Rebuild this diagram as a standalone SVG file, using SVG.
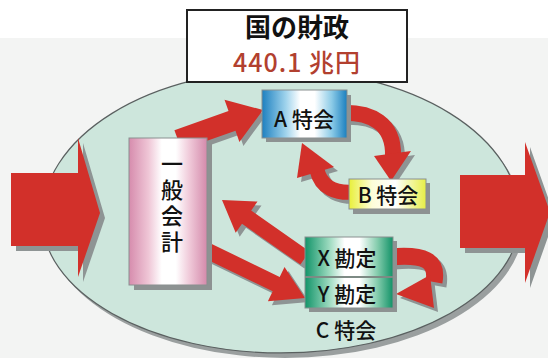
<svg xmlns="http://www.w3.org/2000/svg" xmlns:xlink="http://www.w3.org/1999/xlink" width="548" height="358" viewBox="0 0 548 358">
<style>
  text { font-family: "Noto Sans CJK JP", "Noto Sans", sans-serif; fill: #111; }
  .arrow { fill: #d2302a; }
  .shaft { fill: none; stroke: #d2302a; }
  .shadow { fill: #8e9494; }
  .shadowline { fill: none; stroke: #8e9494; }
  .shade { fill: #8d9292; }
  .box { stroke: #8a8f8f; stroke-width: 1; }
  .lbl { font-size: 21px; font-weight: 500; text-anchor: middle; }
</style>
<defs>
  <linearGradient id="gPink" x1="0" y1="0" x2="1" y2="0">
    <stop offset="0" stop-color="#d68cad"/>
    <stop offset="0.25" stop-color="#efc6d6"/>
    <stop offset="0.42" stop-color="#ffffff"/>
    <stop offset="0.6" stop-color="#ffffff"/>
    <stop offset="0.78" stop-color="#efc8d8"/>
    <stop offset="1" stop-color="#d48aab"/>
  </linearGradient>
  <linearGradient id="gBlue" x1="0" y1="0" x2="1" y2="0">
    <stop offset="0" stop-color="#1d80c0"/>
    <stop offset="0.28" stop-color="#9fd3ec"/>
    <stop offset="0.45" stop-color="#ffffff"/>
    <stop offset="0.62" stop-color="#ffffff"/>
    <stop offset="0.82" stop-color="#8ccbe7"/>
    <stop offset="1" stop-color="#1a7fbf"/>
  </linearGradient>
  <linearGradient id="gYellow" x1="0" y1="0" x2="1" y2="0">
    <stop offset="0" stop-color="#e8ef3a"/>
    <stop offset="0.3" stop-color="#fdfdd8"/>
    <stop offset="0.6" stop-color="#ffffff"/>
    <stop offset="1" stop-color="#e6ee46"/>
  </linearGradient>
  <linearGradient id="gGreen" x1="0" y1="0" x2="1" y2="0">
    <stop offset="0" stop-color="#129469"/>
    <stop offset="0.28" stop-color="#9edbc0"/>
    <stop offset="0.45" stop-color="#ffffff"/>
    <stop offset="0.62" stop-color="#ffffff"/>
    <stop offset="0.82" stop-color="#86cdae"/>
    <stop offset="1" stop-color="#119267"/>
  </linearGradient>
  <path id="ellipsePath" d="M42,218 A239,148 0 0 1 520,218 A239,135 0 0 1 42,218 Z"/>
  <polygon id="bigL" points="11,173 78,173 78,138 100,213 78,277 78,246 11,246"/>
  <polygon id="bigR" points="460,175 525,175 525,142 550,212 525,283 525,248 460,248"/>
  <polygon id="a1" points="181.6,149.8 174.4,130.2 228.5,110.9 224.5,99.7 263,110 239.4,141.9 235.5,130.7"/>
  <polygon id="a4" points="309.6,251.4 251.2,210.6 257.5,201.6 222,200 235.7,232.8 242,223.8 300.4,264.6"/>
  <polygon id="a5" points="196.5,254.4 203.5,240 279.7,276.9 284.5,267 305,298 267.9,301.2 272.7,291.3"/>
  <path id="a2s" d="M338,113 C372,111 394,124 393,156"/>
  <polygon id="a2h" points="391,181 374,156 411,151"/>
  <path id="a3s" d="M356,192 C336,194 321,188 317,170"/>
  <polygon id="a3h" points="302,143 334,167 297,178"/>
  <path id="a6s" d="M390,257 C424,254 438,260 434,282"/>
  <polygon id="a6h" points="396,294 430,275 434,308"/>
</defs>

<rect x="0" y="0" width="548" height="358" fill="#ffffff"/>
<rect x="0" y="38" width="548" height="320" fill="#f3f4f3"/>

<g id="ellipse">
  <use xlink:href="#ellipsePath" href="#ellipsePath" transform="translate(4,5)" fill="#9a9f9f"/>
  <use xlink:href="#ellipsePath" href="#ellipsePath" fill="#cde6dc" stroke="#5a6060" stroke-width="1.2"/>
</g>

<g id="connectors">
  <g id="in-arrow">
    <use href="#bigL" class="shadow" transform="translate(5,5)"/>
    <use href="#bigL" class="arrow"/>
  </g>
  <g id="out-arrow">
    <use href="#bigR" class="shadow" transform="translate(5,5)"/>
    <use href="#bigR" class="arrow"/>
  </g>
  <g id="gen-to-A">
    <use href="#a1" class="shadow" transform="translate(4,4)"/>
    <use href="#a1" class="arrow"/>
  </g>
  <g id="A-to-B">
    <use href="#a2s" class="shadowline" stroke-width="16" transform="translate(4,4)"/>
    <use href="#a2h" class="shadow" transform="translate(4,4)"/>
    <use href="#a2s" class="shaft" stroke-width="16"/>
    <use href="#a2h" class="arrow"/>
  </g>
  <g id="B-to-A">
    <use href="#a3s" class="shadowline" stroke-width="15" transform="translate(4,4)"/>
    <use href="#a3h" class="shadow" transform="translate(4,4)"/>
    <use href="#a3s" class="shaft" stroke-width="15"/>
    <use href="#a3h" class="arrow"/>
  </g>
  <g id="X-to-gen">
    <use href="#a4" class="shadow" transform="translate(4,4)"/>
    <use href="#a4" class="arrow"/>
  </g>
  <g id="gen-to-Y">
    <use href="#a5" class="shadow" transform="translate(4,4)"/>
    <use href="#a5" class="arrow"/>
  </g>
  <g id="X-to-Y">
    <use href="#a6s" class="shadowline" stroke-width="17" transform="translate(4,4)"/>
    <use href="#a6h" class="shadow" transform="translate(4,4)"/>
    <use href="#a6s" class="shaft" stroke-width="17"/>
    <use href="#a6h" class="arrow"/>
  </g>
</g>

<g id="title">
  <rect x="187" y="10" width="220" height="72" fill="#ffffff" stroke="#222" stroke-width="2"/>
  <text x="297" y="37" font-size="26" font-weight="600" text-anchor="middle">国の財政</text>
  <text x="297" y="72" font-size="25" font-weight="500" text-anchor="middle" letter-spacing="1" style="fill:#b2402f">440.1 兆円</text>
</g>

<g id="general-account">
  <rect x="134" y="143" width="78" height="147" class="shade"/>
  <rect x="129" y="138" width="78" height="147" fill="url(#gPink)" class="box"/>
  <text x="172" y="153" font-size="22" font-weight="500" writing-mode="vertical-rl" letter-spacing="4">一般会計</text>
</g>

<g id="A-special">
  <rect x="266" y="95" width="85" height="47" class="shade"/>
  <rect x="262" y="90" width="85" height="48" fill="url(#gBlue)" class="box"/>
  <text class="lbl" x="304" y="127">A 特会</text>
</g>

<g id="B-special">
  <rect x="353" y="183" width="77" height="31" class="shade"/>
  <rect x="349" y="179" width="77" height="30" fill="url(#gYellow)" class="box"/>
  <text class="lbl" x="388" y="203" font-size="20">B 特会</text>
</g>

<g id="C-special">
  <rect x="309" y="241" width="88" height="71" class="shade"/>
  <rect x="305" y="237" width="88" height="71" fill="url(#gGreen)" class="box"/>
  <line x1="305" y1="277" x2="393" y2="277" stroke="#7d8a84" stroke-width="2"/>
  <text class="lbl" x="347" y="266">X 勘定</text>
  <text class="lbl" x="347" y="302">Y 勘定</text>
  <text class="lbl" x="346" y="338" font-size="20">C 特会</text>
</g>
</svg>
